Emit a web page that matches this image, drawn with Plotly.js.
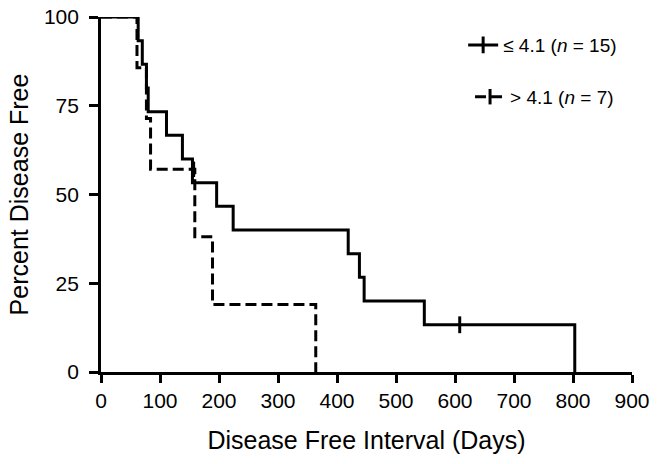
<!DOCTYPE html>
<html>
<head>
<meta charset="utf-8">
<script src="https://cdn.plot.ly/plotly-3.0.1.min.js"></script>
<style>html,body{margin:0;padding:0;background:#fff}#chart{width:663px;height:464px}</style>
</head>
<body>
<div id="chart"></div>
<script>
// Kaplan-Meier step data (days, percent disease free)
var lowDays = [0, 63, 70, 77, 80, 111, 138, 155, 196, 224, 419, 438, 446, 548, 803];
var lowPct  = [100, 93.3, 86.7, 80, 73.3, 66.7, 60, 53.3, 46.7, 40, 33.3, 26.7, 20, 13.3, 0];
var lowCensorDays = [608];
var lowCensorPct  = [13.3];

var highDays = [0, 61, 77, 84, 159, 189, 364];
var highPct  = [100, 85.7, 71.4, 57.1, 38.1, 19.0, 0];
var highCensorDays = [157];
var highCensorPct  = [57.1];

var lowName  = "≤ 4.1 (<i>n</i> = 15)";
var highName = "> 4.1 (<i>n</i> = 7)";

var xTicks = [0, 100, 200, 300, 400, 500, 600, 700, 800, 900];
var yTicks = [0, 25, 50, 75, 100];
var yTickLabels = ["0", "25", "50", "75", "100"];

var font = "Arial, 'Liberation Sans', Helvetica, sans-serif";
var dashPattern = '11px,5px';
var pad = '\u00a0';

var traces = [
  {x: lowDays, y: lowPct, mode: 'lines', line: {shape: 'hv', color: '#000', width: 3}, showlegend: false, hoverinfo: 'skip'},
  {x: highDays, y: highPct, mode: 'lines', line: {shape: 'hv', color: '#000', width: 3, dash: dashPattern}, showlegend: false, hoverinfo: 'skip'},
  {x: lowCensorDays, y: lowCensorPct, mode: 'lines+markers', name: lowName, legend: 'legend',
   line: {color: '#000', width: 3}, marker: {symbol: 'line-ns-open', size: 12, color: '#000', line: {color: '#000', width: 3}}},
  {x: highCensorDays, y: highCensorPct, mode: 'lines+markers', name: highName, legend: 'legend2',
   line: {color: '#000', width: 3, dash: dashPattern}, marker: {symbol: 'line-ns-open', size: 11, color: '#000', line: {color: '#000', width: 3}}}
];

var layout = {
  width: 663, height: 464,
  margin: {l: 101, r: 31, t: 17, b: 92},
  paper_bgcolor: '#fff', plot_bgcolor: '#fff',
  font: {family: font, color: '#000', size: 19},
  xaxis: {
    range: [0, 900], tickvals: xTicks, ticks: 'outside', ticklen: 8, tickwidth: 3, tickcolor: '#000',
    showline: true, linecolor: '#000', linewidth: 3, showgrid: false, zeroline: false,
    tickfont: {size: 21, family: font},
    title: {text: 'Disease Free Interval (Days)', font: {size: 25, family: font}, standoff: 21}
  },
  yaxis: {
    range: [0, 100], tickvals: yTicks, ticktext: yTickLabels.map(function (t) { return t + pad; }),
    ticks: 'outside', ticklen: 9, tickwidth: 3, tickcolor: '#000',
    showline: true, linecolor: '#000', linewidth: 3, showgrid: false, zeroline: false,
    tickfont: {size: 21, family: font},
    title: {text: 'Percent Disease Free', font: {size: 25, family: font}, standoff: 9}
  },
  legend: {x: 0.682, y: 0.921, xanchor: 'left', yanchor: 'middle', bgcolor: 'rgba(0,0,0,0)', font: {size: 19, family: font}},
  legend2: {x: 0.695, y: 0.775, xanchor: 'left', yanchor: 'middle', bgcolor: 'rgba(0,0,0,0)', font: {size: 19, family: font}}
};

Plotly.newPlot('chart', traces, layout, {staticPlot: true, displayModeBar: false});
</script>
</body>
</html>
